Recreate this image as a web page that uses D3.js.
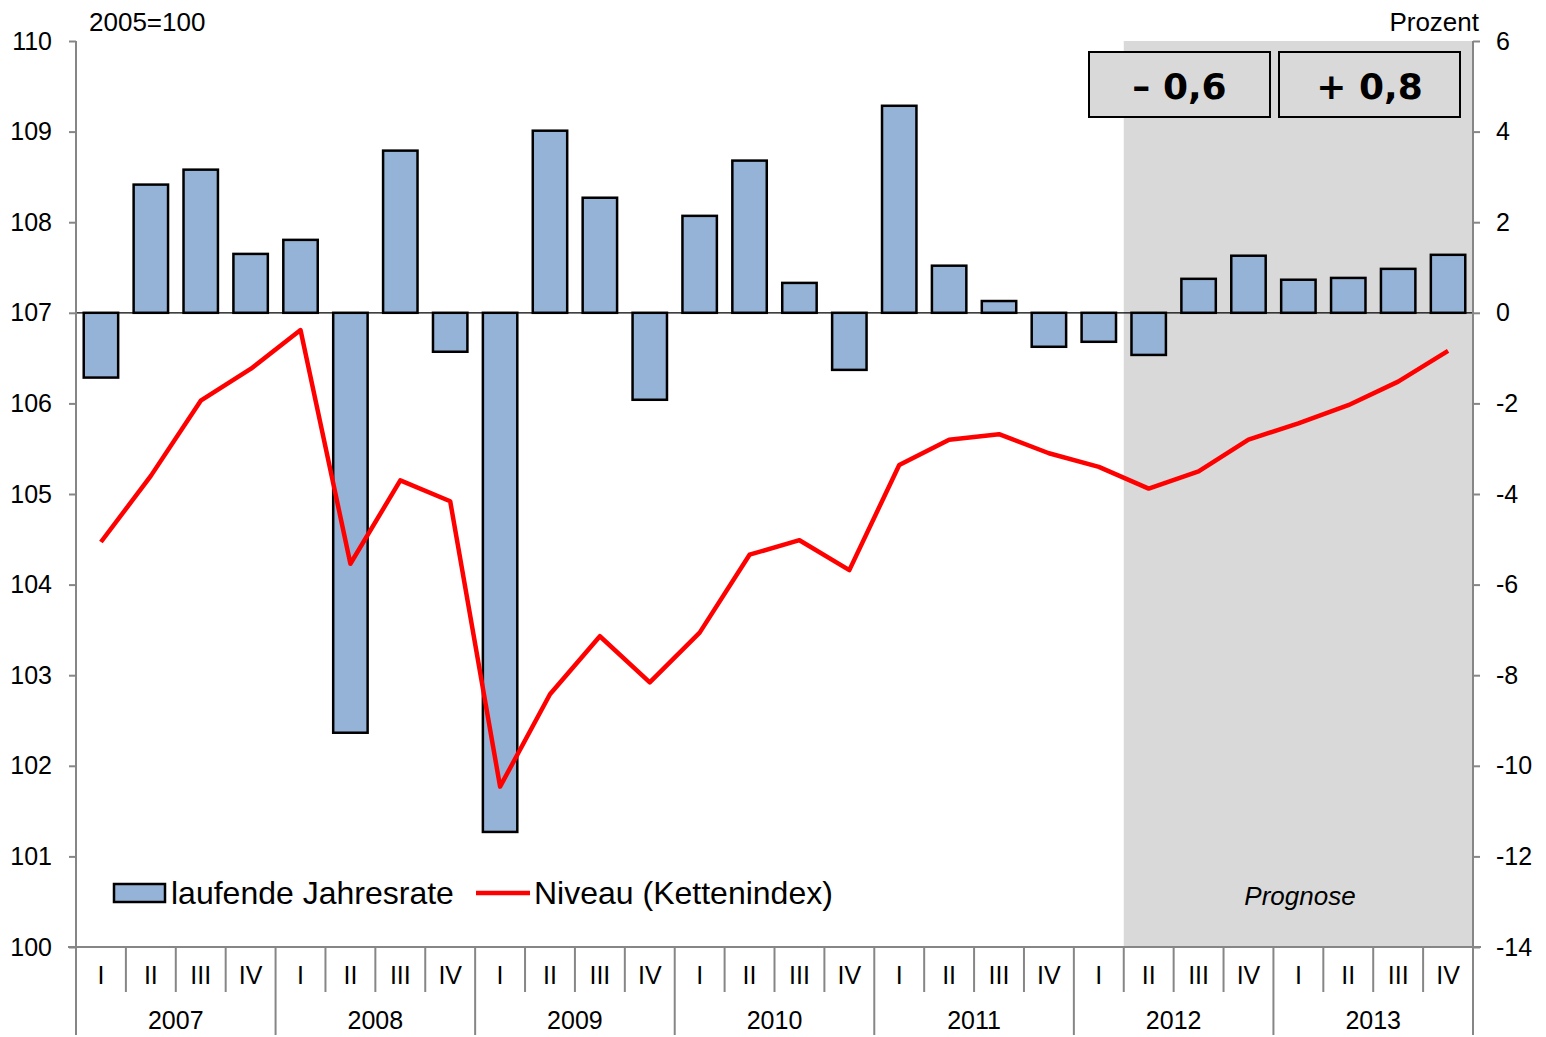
<!DOCTYPE html>
<html><head><meta charset="utf-8">
<script src="https://cdn.jsdelivr.net/npm/d3@7"></script>
<style>body{margin:0;background:#fff}svg{display:block;font-family:"Liberation Sans",Arial,sans-serif}</style>
</head><body><svg id="c" width="1546" height="1037"></svg>
<script>
const years = ["2007","2008","2009","2010","2011","2012","2013"];
const quarters = ["I","II","III","IV"];
const rate = [-1.43,2.83,3.16,1.30, 1.61,-9.27,3.58,-0.86, -11.46,4.02,2.54,-1.92, 2.14,3.36,0.66,-1.26, 4.57,1.04,0.26,-0.75, -0.64,-0.93,0.75,1.26, 0.73,0.77,0.97,1.28];
const level = [104.47,105.20,106.03,106.38, 106.81,104.23,105.15,104.92, 101.77,102.79,103.43,102.92, 103.47,104.33,104.49,104.16, 105.32,105.60,105.66,105.45, 105.30,105.06,105.25,105.60, 105.78,105.98,106.24,106.58];
const leftTicks = [100,101,102,103,104,105,106,107,108,109,110];
const rightTicks = [-14,-12,-10,-8,-6,-4,-2,0,2,4,6];
const forecastStart = 21; // index of 2012 II
const boxLabels = ["\u2013 0,6","+ 0,8"];
const legendLabels = ["laufende Jahresrate","Niveau (Kettenindex)"];

const svg = d3.select("#c");
const L = 76, R = 1473, T = 41, B = 947;
const n = rate.length;
const x = d3.scaleBand().domain(d3.range(n)).range([L, R]).paddingInner(0.31).paddingOuter(0.155);
const step = (R - L) / n;
const yL = d3.scaleLinear().domain([100,110]).range([B, T]);
const yR = d3.scaleLinear().domain([-14,6]).range([B, T]);
const axisCol = "#868686";
const FONT = "Liberation Sans, Arial, sans-serif";

// forecast shading
svg.append("rect").attr("x", L + forecastStart*step).attr("y", T)
  .attr("width", R - (L + forecastStart*step)).attr("height", B - T).attr("fill", "#d9d9d9");

// bars
svg.append("g").selectAll("rect").data(rate).join("rect")
  .attr("x", (d,i) => x(i)).attr("width", x.bandwidth())
  .attr("y", d => yR(Math.max(0,d))).attr("height", d => Math.abs(yR(d) - yR(0)))
  .attr("fill", "#95b3d7").attr("stroke", "#000").attr("stroke-width", 2.5);

// zero line
svg.append("line").attr("x1", L).attr("x2", R).attr("y1", yR(0)).attr("y2", yR(0))
  .attr("stroke", "#000").attr("stroke-width", 1.3);

// line
svg.append("path").datum(level)
  .attr("d", d3.line().x((d,i) => x(i) + x.bandwidth()/2).y(d => yL(d)))
  .attr("fill", "none").attr("stroke", "#ff0000").attr("stroke-width", 4.5).attr("stroke-linejoin","round");

// left axis
const gl = svg.append("g").attr("transform", `translate(${L},0)`)
  .call(d3.axisLeft(yL).tickValues(leftTicks).tickFormat(d3.format("d")).tickSize(7).tickPadding(17));
// right axis
const gr = svg.append("g").attr("transform", `translate(${R},0)`)
  .call(d3.axisRight(yR).tickValues(rightTicks).tickFormat(d => d < 0 ? "-" + Math.abs(d) : d).tickSize(7).tickPadding(16));
[gl, gr].forEach(g => {
  g.attr("font-family", FONT).attr("font-size", 25);
  g.select(".domain").attr("stroke", axisCol).attr("stroke-width", 2).attr("d", `M0,${B}V${T}`);
  g.selectAll(".tick line").attr("stroke", axisCol).attr("stroke-width", 2);
  g.selectAll(".tick text").attr("fill", "#000");
});

// bottom axis
const gb = svg.append("g").attr("font-size", 25);
gb.append("line").attr("x1", L - 8).attr("x2", R + 8).attr("y1", B).attr("y2", B).attr("stroke", axisCol).attr("stroke-width", 2);
d3.range(n + 1).forEach(i => {
  const xx = L + i*step;
  const isYear = i % 4 === 0;
  gb.append("line").attr("x1", xx).attr("x2", xx).attr("y1", B).attr("y2", isYear ? 1035 : 992)
    .attr("stroke", axisCol).attr("stroke-width", 2);
});
gb.selectAll("text.q").data(d3.range(n)).join("text").attr("class","q")
  .attr("x", i => x(i) + x.bandwidth()/2).attr("y", 984).attr("text-anchor","middle")
  .text(i => quarters[i % 4]);
gb.selectAll("text.y").data(years).join("text").attr("class","y")
  .attr("x", (d,i) => L + (i*4 + 2)*step).attr("y", 1029).attr("text-anchor","middle")
  .text(d => d);

// unit labels
svg.append("text").attr("x", 89).attr("y", 31).attr("font-size", 26).text("2005=100");
svg.append("text").attr("x", 1479).attr("y", 31).attr("text-anchor","end").attr("font-size", 26).text("Prozent");

// boxes
const boxes = [{x:1089,w:181},{x:1279,w:181}];
boxes.forEach((b,i) => {
  svg.append("rect").attr("x", b.x).attr("y", 52).attr("width", b.w).attr("height", 65)
    .attr("fill", "#d9d9d9").attr("stroke", "#000").attr("stroke-width", 2);
  svg.append("text").attr("x", b.x + b.w/2).attr("y", 99).attr("text-anchor","middle")
    .attr("font-family", "'DejaVu Sans', Verdana, sans-serif").attr("font-weight","bold").attr("font-size", 36).text(boxLabels[i]);
});

// Prognose
svg.append("text").attr("x", 1300).attr("y", 905).attr("text-anchor","middle").attr("font-style","italic")
  .attr("font-size", 26).text("Prognose");

// legend
svg.append("rect").attr("x", 114).attr("y", 884).attr("width", 51).attr("height", 18)
  .attr("fill", "#95b3d7").attr("stroke", "#000").attr("stroke-width", 2.5);
svg.append("text").attr("x", 171).attr("y", 904).attr("font-size", 32).text(legendLabels[0]);
svg.append("line").attr("x1", 476).attr("x2", 530).attr("y1", 893).attr("y2", 893).attr("stroke", "#ff0000").attr("stroke-width", 4.5);
svg.append("text").attr("x", 534).attr("y", 904).attr("font-size", 32).text(legendLabels[1]);
</script></body></html>
